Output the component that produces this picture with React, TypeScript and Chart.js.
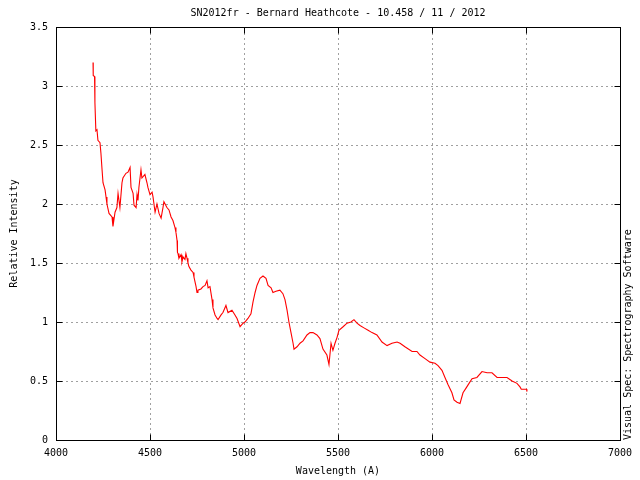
import React, { useEffect, useRef } from "react";
import { Chart, registerables } from "chart.js";

Chart.register(...registerables);

const wavelengths: number[] = [
  4197, 4198, 4205, 4207, 4212, 4218, 4223, 4234, 4239, 4245, 4250, 4261, 4266, 4271, 4282,
  4298, 4303, 4314, 4324, 4330, 4340, 4351, 4356, 4372, 4383, 4394, 4399, 4410, 4415, 4426,
  4431, 4436, 4441, 4452, 4457, 4473, 4484, 4489, 4500, 4511, 4516, 4527, 4537, 4548, 4559,
  4569, 4574, 4590, 4601, 4612, 4622, 4633, 4638, 4644, 4646, 4649, 4654, 4665, 4670, 4676,
  4686, 4691, 4697, 4702, 4707, 4718, 4729, 4734, 4745, 4750, 4755, 4771, 4782, 4793, 4803,
  4809, 4819, 4830, 4835, 4846, 4857, 4862, 4878, 4888, 4904, 4915, 4936, 4952, 4963, 4979,
  4995, 5005, 5021, 5037, 5048, 5059, 5069, 5085, 5101, 5117, 5128, 5144, 5154, 5170, 5191,
  5207, 5218, 5229, 5239, 5250, 5261, 5266, 5282, 5298, 5314, 5335, 5351, 5367, 5388, 5404,
  5420, 5441, 5452, 5463, 5473, 5484, 5495, 5505, 5527, 5548, 5569, 5585, 5601, 5617, 5638,
  5660, 5681, 5707, 5734, 5761, 5787, 5814, 5830, 5856, 5894, 5920, 5936, 5963, 5989, 6016,
  6032, 6053, 6069, 6085, 6106, 6117, 6133, 6149, 6165, 6181, 6197, 6213, 6239, 6266, 6293,
  6319, 6346, 6372, 6399, 6426, 6452, 6468, 6475, 6503, 6505,
];

const intensity: number[] = [
  3.2, 3.09, 3.08, 2.86, 2.62, 2.63, 2.54, 2.52, 2.43, 2.29, 2.18, 2.12, 2.06, 2.0, 1.92,
  1.89, 1.81, 1.93, 1.97, 2.09, 1.97, 2.18, 2.22, 2.26, 2.27, 2.31, 2.14, 2.09, 1.99, 1.97,
  2.08, 2.03, 2.14, 2.29, 2.22, 2.25, 2.18, 2.14, 2.08, 2.1, 2.06, 1.93, 2.0, 1.92, 1.88,
  1.97, 2.02, 1.97, 1.95, 1.89, 1.86, 1.8, 1.76, 1.69, 1.59, 1.58, 1.54, 1.57, 1.51, 1.55,
  1.53, 1.58, 1.54, 1.5, 1.47, 1.44, 1.42, 1.38, 1.3, 1.25, 1.27, 1.28, 1.3, 1.31, 1.35,
  1.29, 1.3, 1.19, 1.12, 1.06, 1.03, 1.02, 1.06, 1.08, 1.14, 1.08, 1.1, 1.06, 1.03, 0.96,
  0.99, 1.0, 1.03, 1.07, 1.17, 1.25, 1.31, 1.37, 1.39, 1.37, 1.31, 1.29, 1.25, 1.26, 1.27,
  1.24, 1.19, 1.1, 1.0, 0.91, 0.82, 0.77, 0.79, 0.82, 0.84, 0.89, 0.91, 0.91, 0.89, 0.86,
  0.77, 0.72, 0.64, 0.82, 0.76, 0.82, 0.87, 0.93, 0.96, 0.99, 1.0, 1.02, 0.99, 0.97, 0.95,
  0.93, 0.91, 0.89, 0.83, 0.8, 0.82, 0.83, 0.82, 0.79, 0.75, 0.75, 0.72, 0.69, 0.66, 0.65,
  0.63, 0.59, 0.53, 0.47, 0.4, 0.34, 0.32, 0.31, 0.4, 0.44, 0.48, 0.52, 0.53, 0.58, 0.57,
  0.57, 0.53, 0.53, 0.53, 0.5, 0.48, 0.45, 0.43, 0.43, 0.41,
];

const chartTitle = "SN2012fr - Bernard Heathcote - 10.458 / 11 / 2012";
const xAxisTitle = "Wavelength (A)";
const yAxisTitle = "Relative Intensity";
const sideLabel = "Visual Spec: Spectrography Software";
const xMin = 4000;
const xMax = 7000;
const xStep = 500;
const yMin = 0;
const yMax = 3.5;
const yStep = 0.5;

const FONT = "10px 'DejaVu Sans Mono', monospace";

const framePlugin = {
  id: "gnuplotFrame",
  beforeDatasetsDraw(chart: any) {
    const { ctx, chartArea: a, scales } = chart;
    ctx.save();
    ctx.strokeStyle = "#a0a0a0";
    ctx.lineWidth = 1;
    ctx.setLineDash([2, 3]);
    scales.x.ticks.forEach((t: any) => {
      if (t.value <= xMin || t.value >= xMax) return;
      const x = Math.round(scales.x.getPixelForValue(t.value)) + 0.5;
      ctx.beginPath();
      ctx.moveTo(x, a.bottom);
      ctx.lineTo(x, a.top);
      ctx.stroke();
    });
    scales.y.ticks.forEach((t: any) => {
      if (t.value <= yMin || t.value >= yMax) return;
      const y = Math.round(scales.y.getPixelForValue(t.value)) + 0.5;
      ctx.beginPath();
      ctx.moveTo(a.left, y);
      ctx.lineTo(a.right, y);
      ctx.stroke();
    });
    ctx.restore();
  },
  afterDatasetsDraw(chart: any) {
    const { ctx, chartArea: a, scales } = chart;
    ctx.save();
    ctx.setLineDash([]);
    ctx.strokeStyle = "#000";
    ctx.lineWidth = 1;
    const L = Math.round(a.left) + 0.5;
    const R = Math.round(a.right) + 0.5;
    const T = Math.round(a.top) + 0.5;
    const B = Math.round(a.bottom) + 0.5;
    ctx.strokeRect(L, T, R - L, B - T);
    const tl = 6;
    scales.x.ticks.forEach((t: any) => {
      const x = Math.round(scales.x.getPixelForValue(t.value)) + 0.5;
      ctx.beginPath();
      ctx.moveTo(x, B);
      ctx.lineTo(x, B - tl);
      ctx.moveTo(x, T);
      ctx.lineTo(x, T + tl);
      ctx.stroke();
    });
    scales.y.ticks.forEach((t: any) => {
      const y = Math.round(scales.y.getPixelForValue(t.value)) + 0.5;
      ctx.beginPath();
      ctx.moveTo(L, y);
      ctx.lineTo(L + tl, y);
      ctx.moveTo(R, y);
      ctx.lineTo(R - tl, y);
      ctx.stroke();
    });
    ctx.fillStyle = "#000";
    ctx.font = FONT;
    ctx.textAlign = "center";
    ctx.textBaseline = "middle";
    const cx = (a.left + a.right) / 2;
    ctx.fillText(chartTitle, cx, 13);
    ctx.fillText(xAxisTitle, cx, 471);
    ctx.save();
    ctx.translate(14, (a.top + a.bottom) / 2);
    ctx.rotate(-Math.PI / 2);
    ctx.fillText(yAxisTitle, 0, 0);
    ctx.restore();
    ctx.save();
    ctx.translate(628, a.bottom);
    ctx.rotate(-Math.PI / 2);
    ctx.textAlign = "left";
    ctx.fillText(sideLabel, 0, 0);
    ctx.restore();
    ctx.restore();
  },
};

export default function App() {
  const ref = useRef<HTMLCanvasElement | null>(null);
  useEffect(() => {
    document.body.style.margin = "0";
    const canvas = ref.current;
    if (!canvas) return;
    const points = wavelengths.map((w, i) => ({ x: w, y: intensity[i] }));
    const chart = new Chart(canvas, {
      type: "line",
      data: {
        datasets: [
          {
            data: points,
            borderColor: "#ff0000",
            borderWidth: 1.1,
            pointRadius: 0,
            tension: 0,
            fill: false,
          },
        ],
      },
      options: {
        animation: false,
        responsive: false,
        devicePixelRatio: 1,
        layout: { padding: { top: 27, right: 20, left: 0, bottom: 0 } },
        plugins: { legend: { display: false }, tooltip: { enabled: false }, title: { display: false } },
        scales: {
          x: {
            type: "linear",
            min: xMin,
            max: xMax,
            grid: { display: false, drawTicks: false },
            border: { display: false },
            ticks: {
              stepSize: xStep,
              padding: 7,
              color: "#000",
              font: { family: "'DejaVu Sans Mono', monospace", size: 10 },
              maxRotation: 0,
              autoSkip: false,
              callback: (v: any) => String(Number(v)),
            },
            afterFit: (s: any) => {
              s.height = 40;
            },
          },
          y: {
            type: "linear",
            min: yMin,
            max: yMax,
            grid: { display: false, drawTicks: false },
            border: { display: false },
            ticks: {
              stepSize: yStep,
              padding: 8,
              color: "#000",
              font: { family: "'DejaVu Sans Mono', monospace", size: 10 },
              callback: (v: any) => String(Number(v)),
            },
            afterFit: (s: any) => {
              s.width = 56;
            },
          },
        },
      },
      plugins: [framePlugin],
    });
    return () => chart.destroy();
  }, []);
  return (
    <div style={{ position: "absolute", left: 0, top: 0, width: 640, height: 480, background: "#fff" }}>
      <canvas ref={ref} width={640} height={480} style={{ width: 640, height: 480 }} />
    </div>
  );
}
